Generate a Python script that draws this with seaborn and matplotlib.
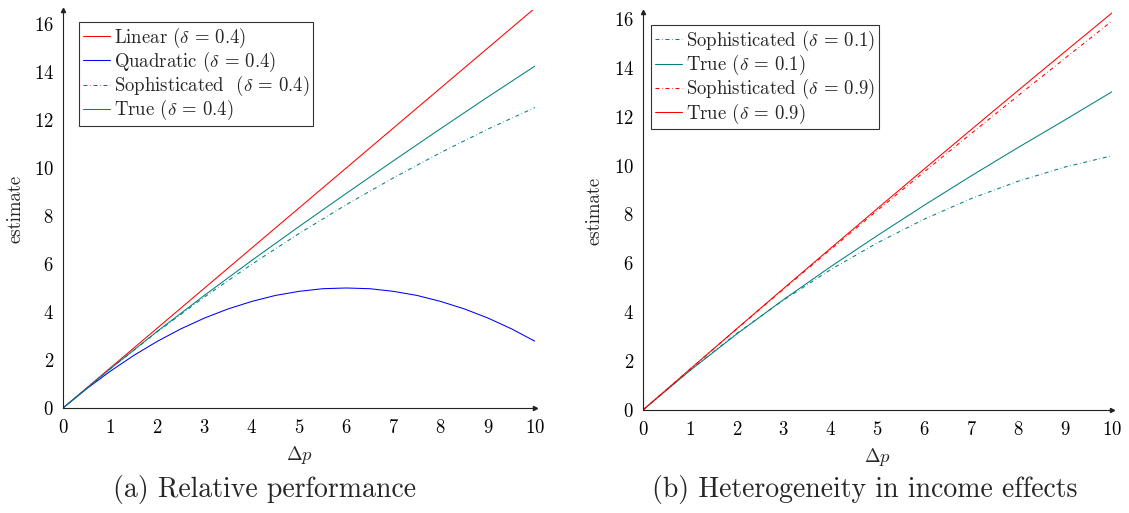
import numpy as np
import pandas as pd
import matplotlib
matplotlib.use("Agg")
import matplotlib.pyplot as plt
import seaborn as sns

# values (estimate vs price change)
dp = [0, 1, 2, 3, 4, 5, 6, 7, 8, 9, 10]
dp_fine = [0, 0.5, 1, 1.5, 2, 2.5, 3, 3.5, 4, 4.5, 5, 5.5, 6, 6.5, 7, 7.5, 8, 8.5, 9, 9.5, 10]

# (a) relative performance, delta = 0.4
linear_04 = [0, 1.667, 3.333, 5.0, 6.667, 8.333, 10.0, 11.667, 13.333, 15.0, 16.667]
quadratic_04 = [0, 0.80, 1.53, 2.19, 2.78, 3.30, 3.75, 4.13, 4.44, 4.69, 4.86,
                4.97, 5.00, 4.97, 4.86, 4.69, 4.44, 4.13, 3.75, 3.30, 2.78]
soph_04 = [0, 1.63, 3.18, 4.63, 5.99, 7.27, 8.47, 9.59, 10.64, 11.62, 12.52]
true_04 = [0, 1.63, 3.20, 4.70, 6.15, 7.56, 8.94, 10.30, 11.64, 12.96, 14.25]

# (b) heterogeneity in income effects
soph_01 = [0, 1.62, 3.13, 4.50, 5.74, 6.84, 7.81, 8.65, 9.36, 9.94, 10.40]
true_01 = [0, 1.61, 3.11, 4.52, 5.86, 7.14, 8.38, 9.58, 10.74, 11.87, 13.02]
soph_09 = [0, 1.665, 3.315, 4.949, 6.566, 8.166, 9.749, 11.315, 12.864, 14.396, 15.911]
true_09 = [0, 1.665, 3.325, 4.975, 6.615, 8.245, 9.865, 11.475, 13.075, 14.665, 16.245]

captions = ["(a) Relative performance", "(b) Heterogeneity in income effects"]

sns.set_theme(style="white")
plt.rcParams["font.family"] = "serif"
plt.rcParams["font.serif"] = ["cmr10"]
plt.rcParams["mathtext.fontset"] = "cm"
plt.rcParams["axes.formatter.use_mathtext"] = True

TEAL = "#008080"
RED = "#ff0000"
BLUE = "#0000ff"
LW = 0.75
DASHDOT = (0, (3.8, 2.6, 0.6, 2.6))
FS = 13.5

fig = plt.figure(figsize=(11.29, 5.13), dpi=100)
ax1 = fig.add_axes([0.0558, 0.2047, 0.4181, 0.7766])
ax2 = fig.add_axes([0.5695, 0.2008, 0.4155, 0.7758])


def style_axis(ax, ymax):
    ax.set_xlim(0, 10)
    ax.set_ylim(0, ymax)
    ax.set_xticks(range(0, 11))
    ax.set_yticks(range(0, 17, 2))
    for s in ["top", "right"]:
        ax.spines[s].set_visible(False)
    for s in ["left", "bottom"]:
        ax.spines[s].set_color("#222222")
        ax.spines[s].set_linewidth(0.8)
    ax.tick_params(direction="inout", length=5, width=0.6, color="#777777",
                   labelsize=FS, labelcolor="black")
    ax.tick_params(axis="y", pad=4)
    ax.tick_params(axis="x", pad=5.5)
    # arrow heads at the axis ends
    ax.plot(1, 0, ">", color="#222222", ms=3, transform=ax.get_yaxis_transform(), clip_on=False)
    ax.plot(0, 1, "^", color="#222222", ms=3, transform=ax.get_xaxis_transform(), clip_on=False)
    ax.set_xlabel(r"$\Delta p$", fontsize=FS, labelpad=5)
    ax.set_ylabel("estimate", fontsize=FS, labelpad=7)


sns.lineplot(x=dp, y=linear_04, ax=ax1, color=RED, lw=LW, label=r"Linear ($\delta\,=\,0.4$)")
sns.lineplot(x=dp_fine, y=quadratic_04, ax=ax1, color=BLUE, lw=LW, label=r"Quadratic ($\delta\,=\,0.4$)")
sns.lineplot(x=dp, y=soph_04, ax=ax1, color=TEAL, lw=LW, linestyle=DASHDOT,
             label=r"Sophisticated  ($\delta\,=\,0.4$)")
sns.lineplot(x=dp, y=true_04, ax=ax1, color=TEAL, lw=LW, label=r"True ($\delta\,=\,0.4$)")
style_axis(ax1, 16.6)

sns.lineplot(x=dp, y=soph_01, ax=ax2, color=TEAL, lw=LW, linestyle=DASHDOT,
             label=r"Sophisticated ($\delta\,=\,0.1$)")
sns.lineplot(x=dp, y=true_01, ax=ax2, color=TEAL, lw=LW, label=r"True ($\delta\,=\,0.1$)")
sns.lineplot(x=dp, y=soph_09, ax=ax2, color=RED, lw=LW, linestyle=DASHDOT,
             label=r"Sophisticated ($\delta\,=\,0.9$)")
sns.lineplot(x=dp, y=true_09, ax=ax2, color=RED, lw=LW, label=r"True ($\delta\,=\,0.9$)")
style_axis(ax2, 16.28)

for ax, anchor in [(ax1, (0.034, 0.969)), (ax2, (0.017, 0.967))]:
    leg = ax.legend(loc="upper left", bbox_to_anchor=anchor, borderaxespad=0,
                    fontsize=FS, frameon=True, fancybox=False, handlelength=1.45,
                    handletextpad=0.2, labelspacing=0.0, borderpad=0.2)
    leg.get_frame().set_edgecolor("black")
    leg.get_frame().set_linewidth(0.8)

fig.text(0.2347, 0.045, captions[0], ha="center", va="center", fontsize=20)
fig.text(0.766, 0.045, captions[1], ha="center", va="center", fontsize=20)

fig.savefig("out.png", dpi=100)
